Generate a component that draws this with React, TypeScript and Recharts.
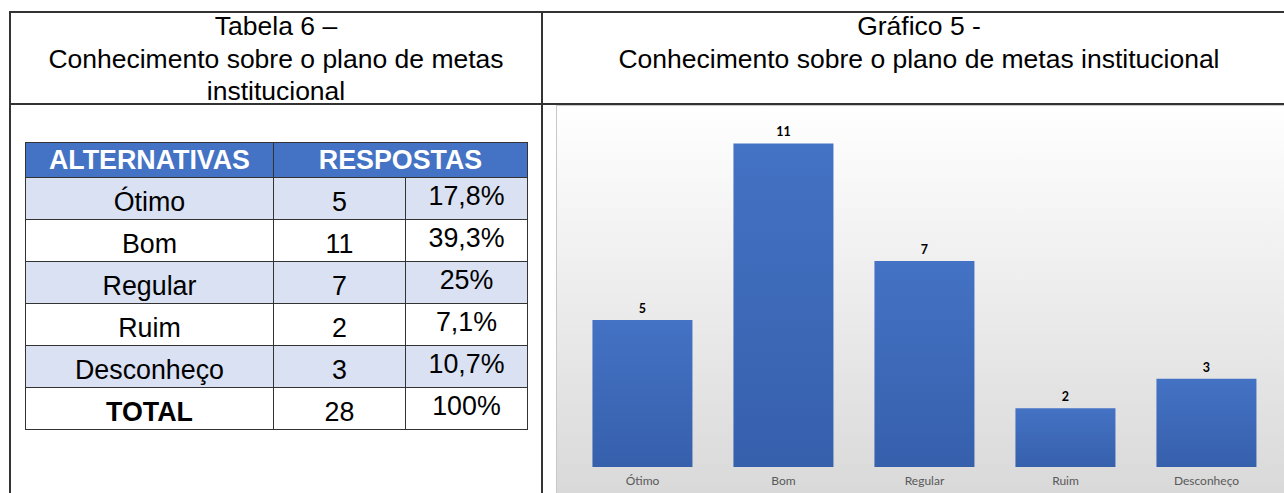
import { BarChart, Bar, XAxis, YAxis, LabelList } from 'recharts';

const categories = ['Ótimo', 'Bom', 'Regular', 'Ruim', 'Desconheço'];
const counts = [5, 11, 7, 2, 3];
const percents = ['17,8%', '39,3%', '25%', '7,1%', '10,7%'];
const totalCount = 28;
const totalPercent = '100%';

const data = categories.map((name, i) => ({ name, value: counts[i] }));

const line = '#333';
const arial = '"Liberation Sans", Arial, sans-serif';

export default function App() {
  const cell: React.CSSProperties = {
    border: '1.5px solid #333',
    padding: 0,
    height: 42,
    fontSize: 26.8,
    textAlign: 'center',
    verticalAlign: 'bottom',
    lineHeight: '33px',
    boxSizing: 'border-box',
  };
  const head: React.CSSProperties = {
    ...cell,
    height: 35,
    fontWeight: 'bold',
    verticalAlign: 'middle',
    lineHeight: '30px',
  };
  const pct: React.CSSProperties = { ...cell, verticalAlign: 'top', lineHeight: '37px' };
  return (
    <div
      style={{
        position: 'absolute',
        left: 0,
        top: 0,
        width: 1284,
        height: 493,
        overflow: 'hidden',
        background: '#fff',
        fontFamily: arial,
        color: '#000',
      }}
    >
      {/* outer frame */}
      <div style={{ position: 'absolute', left: 9, top: 11, width: 1300, height: 2, background: line }} />
      <div style={{ position: 'absolute', left: 9, top: 11, width: 2, height: 500, background: line }} />
      <div style={{ position: 'absolute', left: 541, top: 11, width: 2, height: 500, background: line }} />
      <div style={{ position: 'absolute', left: 9, top: 103, width: 1300, height: 2, background: line }} />

      {/* titles */}
      <div
        style={{
          position: 'absolute',
          left: 11,
          top: 10,
          width: 530,
          textAlign: 'center',
          fontSize: 26.5,
          lineHeight: '32.5px',
        }}
      >
        Tabela 6 –<br />Conhecimento sobre o plano de metas<br />institucional
      </div>
      <div
        style={{
          position: 'absolute',
          left: 543,
          top: 10,
          width: 752,
          textAlign: 'center',
          fontSize: 26.5,
          lineHeight: '32.5px',
        }}
      >
        Gráfico 5 -<br />Conhecimento sobre o plano de metas institucional
      </div>

      {/* table */}
      <table
        style={{
          position: 'absolute',
          left: 25,
          top: 142,
          borderCollapse: 'collapse',
          tableLayout: 'fixed',
          fontFamily: arial,
        }}
      >
        <colgroup>
          <col style={{ width: 248 }} />
          <col style={{ width: 132 }} />
          <col style={{ width: 122 }} />
        </colgroup>
        <tbody>
          <tr style={{ background: '#4472C4', color: '#fff' }}>
            <td style={head}>ALTERNATIVAS</td>
            <td colSpan={2} style={head}>
              RESPOSTAS
            </td>
          </tr>
          {categories.map((c, i) => (
            <tr key={c} style={{ background: i % 2 === 0 ? '#D9E1F2' : '#fff' }}>
              <td style={cell}>{c}</td>
              <td style={cell}>{counts[i]}</td>
              <td style={pct}>{percents[i]}</td>
            </tr>
          ))}
          <tr style={{ background: '#fff' }}>
            <td style={{ ...cell, fontWeight: 'bold' }}>TOTAL</td>
            <td style={cell}>{totalCount}</td>
            <td style={pct}>{totalPercent}</td>
          </tr>
        </tbody>
      </table>

      {/* chart */}
      <div
        style={{
          position: 'absolute',
          left: 556,
          top: 105,
          width: 728,
          height: 388,
          background: 'linear-gradient(to bottom, #ffffff 0%, #ececec 50%, #d9d9d9 100%)',
          borderLeft: '1px solid #c8c8c8',
          borderTop: '1px solid #c8c8c8',
          boxSizing: 'border-box',
        }}
      >
        <BarChart
          width={727}
          height={387}
          data={data}
          margin={{ top: 8, right: 7, bottom: 0, left: 15 }}
          barCategoryGap="14.5%"
        >
          <defs>
            <linearGradient id="barFill" x1="0" y1="0" x2="0" y2="1">
              <stop offset="0%" stopColor="#4472C4" />
              <stop offset="100%" stopColor="#3660AC" />
            </linearGradient>
          </defs>
          <XAxis
            dataKey="name"
            height={26}
            axisLine={false}
            tickLine={false}
            tickMargin={3}
            tick={{ fill: '#595959', fontSize: 12, fontFamily: 'Lato, sans-serif' }}
          />
          <YAxis hide domain={[0, 12]} />
          <Bar dataKey="value" fill="url(#barFill)" isAnimationActive={false}>
            <LabelList
              dataKey="value"
              position="top"
              offset={7}
              style={{ fill: '#000', fontSize: 12.5, fontWeight: 'bold', fontFamily: 'Lato, sans-serif' }}
            />
          </Bar>
        </BarChart>
      </div>
    </div>
  );
}
